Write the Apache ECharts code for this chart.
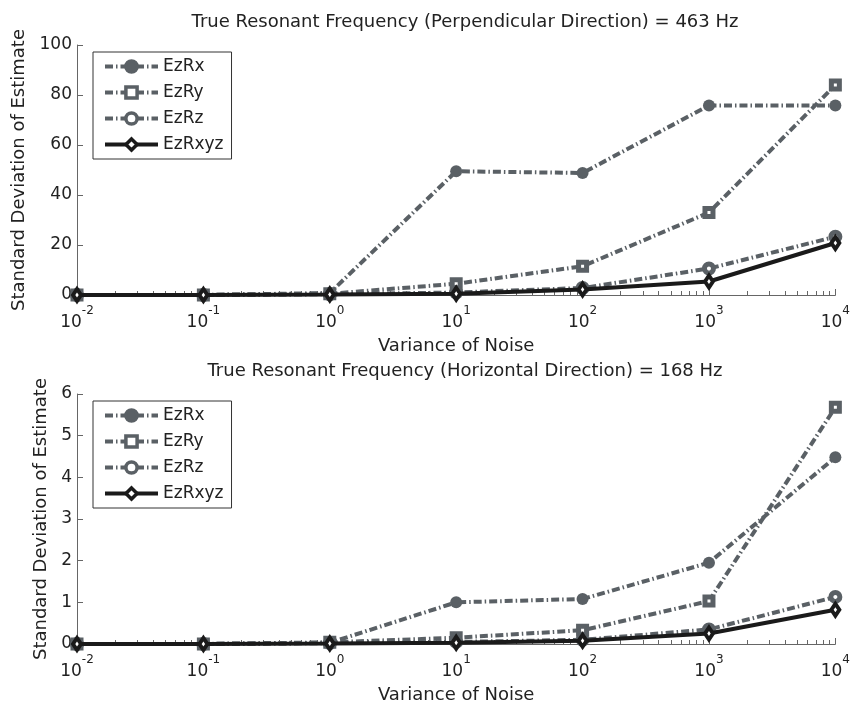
<!DOCTYPE html>
<html>
<head>
<meta charset="utf-8">
<script src="https://cdn.jsdelivr.net/npm/echarts@6/dist/echarts.min.js"></script>
<style>
  html, body { margin: 0; padding: 0; background: #fff; }
  #chart { width: 853px; height: 705px; }
</style>
</head>
<body>
<div id="chart"></div>
<script>
  // noise variance (x, log scale)
  const noiseVariance = [0.01, 0.1, 1, 10, 100, 1000, 10000];
  const seriesNames = ['EzRx', 'EzRy', 'EzRz', 'EzRxyz'];

  // perpendicular direction, 463 Hz
  const perpRx = [0, 0, 0.8, 49.5, 48.8, 75.8, 75.8];
  const perpRy = [0, 0, 0.5, 4.5, 11.5, 33, 84];
  const perpRz = [0, 0, 0.3, 1, 2.8, 10.6, 23.3];
  const perpRxyz = [0, 0, 0.2, 0.5, 2.2, 5.4, 20.8];

  // horizontal direction, 168 Hz
  const horzRx = [0, 0, 0.03, 1.0, 1.08, 1.95, 4.48];
  const horzRy = [0, 0, 0.04, 0.15, 0.33, 1.03, 5.68];
  const horzRz = [0, 0, 0.02, 0.05, 0.1, 0.35, 1.13];
  const horzRxyz = [0, 0, 0.01, 0.03, 0.08, 0.25, 0.82];

  const FONT = 'DejaVu Sans, sans-serif';
  const GREY = '#5a6065';
  const BLACK = '#1a1a1a';
  const DASHDOT = [8, 3, 1.5, 3];

  const styles = [
    {symbol: 'circle', symbolSize: 12, color: GREY, fill: GREY, bw: 0, dash: DASHDOT},
    {symbol: 'rect', symbolSize: 8, color: GREY, fill: '#fff', bw: 5, dash: DASHDOT},
    {symbol: 'circle', symbolSize: 9, color: GREY, fill: '#fff', bw: 5, dash: DASHDOT},
    {symbol: 'diamond', symbolSize: [8, 12], color: BLACK, fill: '#fff', bw: 4, dash: 'solid'}
  ];

  function pairs(ys) {
    return ys.map((y, i) => [noiseVariance[i], y]);
  }

  function makeSeries(idx, dataSets) {
    return dataSets.map((ys, k) => {
      const s = styles[k];
      return {
        name: seriesNames[k],
        type: 'line',
        xAxisIndex: idx,
        yAxisIndex: idx,
        data: pairs(ys),
        symbol: s.symbol,
        symbolSize: s.symbolSize,
        showAllSymbol: true,
        z: 2 + k,
        lineStyle: {color: s.color, width: 4, type: s.dash, cap: 'butt'},
        itemStyle: {color: s.fill, borderColor: s.color, borderWidth: s.bw},
        animation: false
      };
    });
  }

  function xAxis(idx) {
    return {
      type: 'log',
      gridIndex: idx,
      min: 0.01,
      max: 10000,
      logBase: 10,
      name: 'Variance of Noise',
      nameLocation: 'middle',
      nameGap: 42,
      nameTextStyle: {fontFamily: FONT, fontSize: 18, color: '#222'},
      axisLine: {lineStyle: {color: '#666', width: 1}},
      axisTick: {inside: true, length: 6, lineStyle: {color: '#666'}},
      minorTick: {show: true, splitNumber: 9, length: 4, lineStyle: {color: '#666'}},
      splitLine: {show: false},
      axisLabel: {
        margin: 10,
        formatter: v => '{b|10}{s|' + Math.round(Math.log10(v)) + '}',
        rich: {
          b: {fontFamily: FONT, fontSize: 17, color: '#222'},
          s: {fontFamily: FONT, fontSize: 12, color: '#222', padding: [0, 0, 24, 0]}
        }
      }
    };
  }

  function yAxis(idx, max, interval, gap) {
    return {
      type: 'value',
      gridIndex: idx,
      min: 0,
      max: max,
      interval: interval,
      name: 'Standard Deviation of Estimate',
      nameLocation: 'middle',
      nameGap: gap,
      nameTextStyle: {fontFamily: FONT, fontSize: 18, color: '#222'},
      axisLine: {show: true, lineStyle: {color: '#666', width: 1}},
      axisTick: {show: true, inside: true, length: 6, lineStyle: {color: '#666'}},
      splitLine: {show: false},
      axisLabel: {margin: 5, fontFamily: FONT, fontSize: 17, color: '#222'}
    };
  }

  function legend(top) {
    return {
      orient: 'vertical',
      left: 93,
      top: top,
      data: seriesNames,
      itemWidth: 53,
      itemHeight: 14,
      itemGap: 9,
      padding: [6, 8, 6, 10],
      backgroundColor: '#fff',
      borderColor: '#333',
      borderWidth: 1,
      borderRadius: 0,
      selectedMode: false,
      lineStyle: {width: 4},
      itemStyle: {borderWidth: 3.5},
      textStyle: {fontFamily: FONT, fontSize: 17, lineHeight: 17, color: '#222'}
    };
  }

  const chart = echarts.init(document.getElementById('chart'));
  chart.setOption({
    backgroundColor: '#fff',
    animation: false,
    title: [
      {
        text: 'True Resonant Frequency (Perpendicular Direction) = 463 Hz',
        left: 460, top: 8, textAlign: 'center',
        textStyle: {fontFamily: FONT, fontSize: 18, fontWeight: 'normal', color: '#222'}
      },
      {
        text: 'True Resonant Frequency (Horizontal Direction) = 168 Hz',
        left: 460, top: 357, textAlign: 'center',
        textStyle: {fontFamily: FONT, fontSize: 18, fontWeight: 'normal', color: '#222'}
      }
    ],
    legend: [legend(52), legend(401)],
    grid: [
      {left: 77, right: 14, top: 45, height: 250},
      {left: 77, right: 14, top: 394, height: 252}
    ],
    xAxis: [xAxis(0), xAxis(1)],
    yAxis: [yAxis(0, 100, 20, 46), yAxis(1, 6, 1, 24)],
    series: makeSeries(0, [perpRx, perpRy, perpRz, perpRxyz])
      .concat(makeSeries(1, [horzRx, horzRy, horzRz, horzRxyz]))
  });
</script>
</body>
</html>
